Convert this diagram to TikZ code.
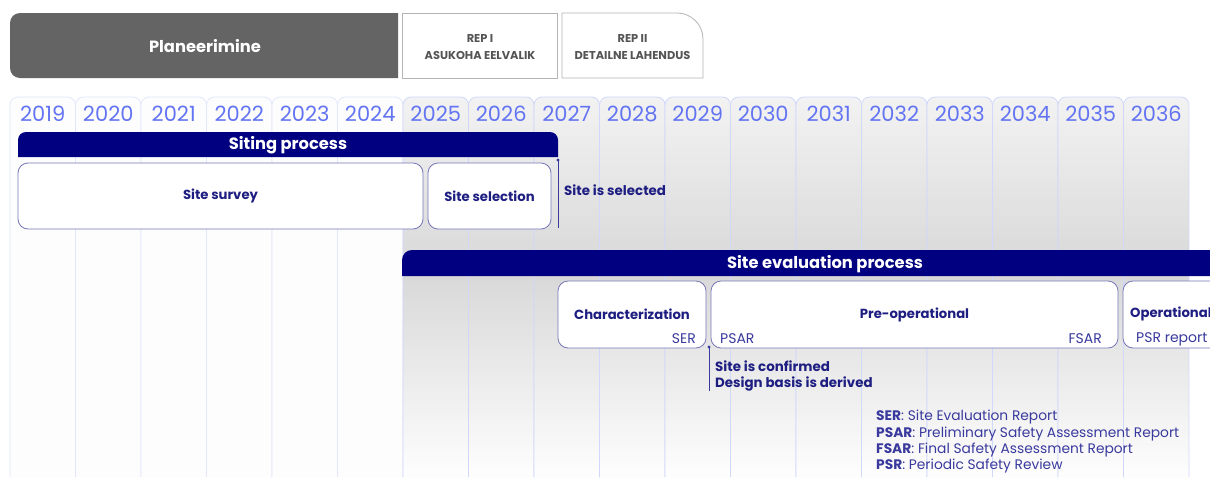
\documentclass[tikz,border=0pt]{standalone}
\usepackage{fontspec}
\setmainfont{Poppins}
\definecolor{navy}{HTML}{000080}
\definecolor{lbl}{HTML}{1E1E82}
\definecolor{sublbl}{HTML}{3A3A9E}
\definecolor{boxline}{HTML}{7676B8}
\definecolor{yearc}{HTML}{6274F2}
\definecolor{colline}{HTML}{D0D8FB}
\definecolor{collinel}{HTML}{E2E7FC}
\definecolor{plan}{HTML}{646464}
\definecolor{repline}{HTML}{B4B4B4}
\definecolor{reptext}{HTML}{555555}
\definecolor{gtop}{HTML}{F2F2F2}
\definecolor{gmid}{HTML}{D8D8D8}
\definecolor{gbot}{HTML}{FDFDFD}
\tikzset{
  yearlbl/.style={text=yearc, font=\fontsize{21}{22}\selectfont, inner sep=0pt},
  phasebox/.style={draw=boxline, fill=white, line width=0.8pt, rounded corners=10pt, inner sep=0pt},
  boxtext/.style={text=lbl, font=\bfseries\fontsize{13.2}{15}\selectfont},
  bartext/.style={text=white, font=\bfseries\fontsize{16.3}{18}\selectfont, inner sep=0pt},
  subtext/.style={text=sublbl, font=\fontsize{14}{16}\selectfont, inner sep=0pt},
  notetext/.style={text=lbl, font=\bfseries\fontsize{13.4}{16}\selectfont, inner sep=0pt, align=left},
  legtext/.style={text=sublbl, font=\fontsize{13.8}{15}\selectfont, inner sep=0pt, anchor=west},
  reptxt/.style={text=reptext, font=\bfseries\fontsize{11.4}{17}\selectfont, align=center, inner sep=0pt},
  markerline/.style={draw=sublbl, line width=0.9pt},
}
\begin{document}
\begin{tikzpicture}[x=1pt,y=-1pt]
\path[use as bounding box, clip] (0,0) rectangle (1210,477);
\fill[white] (0,0) rectangle (1210,477);

% year columns
\foreach \i [evaluate=\i as \xa using 10+65.5*\i, evaluate=\i as \xb using 10+65.5*(\i+1)] in {0,...,5} {
  \fill[gbot] (\xa,477) [rounded corners=8] -- (\xa,97) -- (\xb,97) [sharp corners] -- (\xb,477) -- cycle;
  \draw[collinel, line width=0.8pt] (\xa,477) [rounded corners=8] -- (\xa,97) -- (\xb,97) -- (\xb,477);
}
\foreach \i [evaluate=\i as \xa using 10+65.5*\i, evaluate=\i as \xb using 10+65.5*(\i+1)] in {6,...,17} {
  \begin{scope}
    \clip (\xa,478) [rounded corners=8] -- (\xa,97) -- (\xb,97) [sharp corners] -- (\xb,478) -- cycle;
    \foreach \k in {0,...,95} {
      \pgfmathsetmacro{\ya}{97+4*\k}
      \pgfmathsetmacro{\yb}{\ya+4.5}
      \ifdim\ya pt<270pt
        \pgfmathsetmacro{\pc}{int((\ya-97)/173*100)}
        \colorlet{stripc}{gmid!\pc!gtop}
      \else
        \pgfmathsetmacro{\pc}{int(min(100,(\ya-270)/200*100))}
        \colorlet{stripc}{gbot!\pc!gmid}
      \fi
      \fill[stripc] (\xa,\ya) rectangle (\xb,\yb);
    }
  \end{scope}
  \draw[colline, line width=0.8pt] (\xa,477) [rounded corners=8] -- (\xa,97) -- (\xb,97) -- (\xb,477);
}
\foreach \y [count=\i from 0, evaluate=\i as \xc using 42.75+65.5*\i] in {2019,...,2036} {
  \node[yearlbl] (y\y) at (\xc,114) {\y};
}

% top header
\fill[plan] (398,78) [rounded corners=10] -- (10,78) -- (10,13) [sharp corners] -- (398,13) -- cycle;
\node[text=white, font=\bfseries\fontsize{16.3}{18}\selectfont] (planeer) at (205,46) {Planeerimine};
\node[draw=repline, fill=white, line width=0.8pt, minimum width=155, minimum height=65, inner sep=0pt] (rep1) at (479.5,45.5) {};
\node[reptxt] (rep1t) at (480,47) {REP I\\ASUKOHA EELVALIK};
\draw[repline, fill=white, line width=0.8pt] (562,78) -- (562,13) [rounded corners=26] -- (703,13) [sharp corners] -- (703,78) -- cycle;
\node[reptxt] (rep2t) at (632.5,47) {REP II\\DETAILNE LAHENDUS};

% siting process
\fill[navy] (18,157) [rounded corners=8] -- (18,132) -- (558,132) [sharp corners] -- (558,157) -- cycle;
\node[bartext] (siting) at (288,145) {Siting process};
\node[phasebox, minimum width=405, minimum height=66, boxtext] (survey) at (220.5,196) {Site survey};
\node[phasebox, minimum width=123, minimum height=66, boxtext] (selection) at (489.5,196) {Site selection};
\coordinate (sel1) at (558,160);
\coordinate (sel2) at (558,228);
\draw[markerline] (sel1) -- (sel2);
\fill[sublbl] (sel1) circle (1.6);
\node[notetext, anchor=west] (selnote) at (564,190) {Site is selected};

% site evaluation process
\fill[navy] (402,276) [rounded corners=10] -- (402,250) [sharp corners] -- (1215,250) -- (1215,276) -- cycle;
\node[bartext] (evalbar) at (825,264) {Site evaluation process};
\node[phasebox, minimum width=148, minimum height=67, boxtext] (charact) at (632,314.5) {Characterization};
\node[phasebox, minimum width=407, minimum height=67, boxtext] (preop) at (914.5,314.5) {Pre-operational};
\node[phasebox, minimum width=104, minimum height=67] (oper) at (1175,314.5) {};
\node[boxtext, anchor=west, inner sep=0pt] (opert) at (1130,314) {Operational};
\node[subtext, anchor=east] (ser) at (696,339) {SER};
\node[subtext, anchor=west] (psar) at (720,339) {PSAR};
\node[subtext, anchor=east] (fsar) at (1102,339) {FSAR};
\node[subtext, anchor=west] (psr) at (1136,339) {PSR report};
\coordinate (conf1) at (709,347);
\coordinate (conf2) at (709,391);
\draw[markerline] (conf1) -- (conf2);
\fill[sublbl] (conf1) circle (1.6);
\node[notetext, anchor=north west] (confnote) at (715,361) {Site is confirmed\\Design basis is derived};

% legend
\node[legtext] (l1) at (876,417) {\textbf{SER}: Site Evaluation Report};
\node[legtext] (l2) at (876,434) {\textbf{PSAR}: Preliminary Safety Assessment Report};
\node[legtext] (l3) at (876,450) {\textbf{FSAR}: Final Safety Assessment Report};
\node[legtext] (l4) at (876,466) {\textbf{PSR}: Periodic Safety Review};
\end{tikzpicture}
\end{document}
